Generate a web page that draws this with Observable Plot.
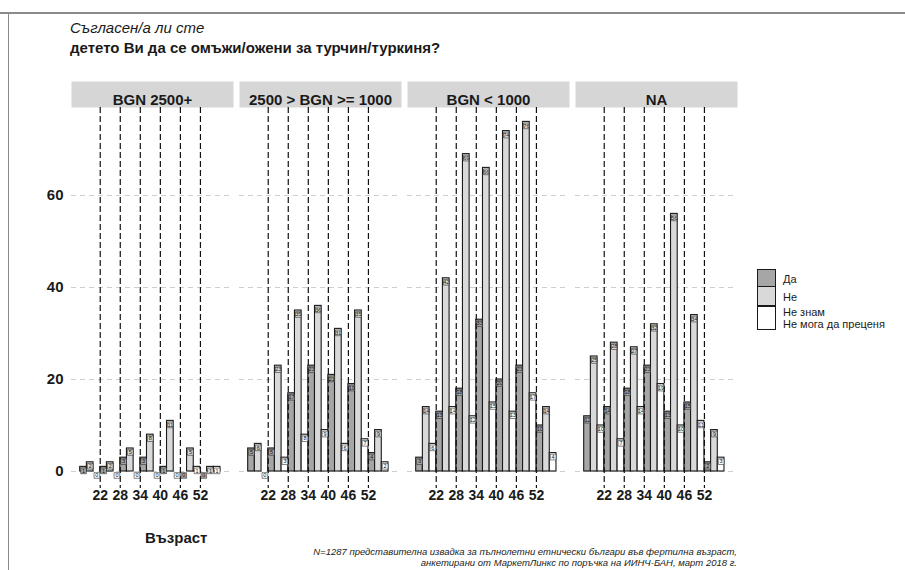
<!DOCTYPE html>
<html>
<head>
<meta charset="utf-8">
<script src="https://cdn.jsdelivr.net/npm/d3@7"></script>
<script src="https://cdn.jsdelivr.net/npm/@observablehq/plot@0.6"></script>
<style>
  html, body { margin: 0; padding: 0; background: #fff; }
  body { position: relative; width: 905px; height: 570px; overflow: hidden; font-family: "Liberation Sans", Arial, sans-serif; color: #1a1a1a; }
  .abs { position: absolute; white-space: nowrap; }
  #topline { left: 0; top: 12px; width: 905px; height: 2px; background: #8a8a8a; }
  #leftline { left: 8px; top: 12px; width: 1px; height: 558px; background: #8a8a8a; }
  #t1 { left: 70px; top: 20px; font-size: 15px; font-style: italic; line-height: 16px; }
  #t2 { left: 70px; top: 40px; font-size: 15px; font-weight: bold; line-height: 16px; }
  #chart { left: 0; top: 81px; }
  #xlab { left: 145px; top: 530px; font-size: 15px; font-weight: bold; line-height: 16px; }
  #caption { right: 168px; top: 546px; font-size: 9.5px; font-style: italic; line-height: 11px; text-align: right; color: #222; }
  #legend { left: 757px; top: 270px; font-size: 11px; }
  .lrow { display: flex; align-items: center; }
  .key { width: 19px; border: 1.3px solid #1a1a1a; box-sizing: border-box; margin-top: -1.3px; }
  .ltxt { margin-left: 7px; line-height: 12px; }
</style>
</head>
<body>
<div class="abs" id="topline"></div>
<div class="abs" id="leftline"></div>
<div class="abs" id="t1">Съгласен/а ли сте</div>
<div class="abs" id="t2">детето Ви да се омъжи/ожени за турчин/туркиня?</div>
<div class="abs" id="chart"></div>
<div class="abs" id="legend"></div>
<div class="abs" id="xlab">Възраст</div>
<div class="abs" id="caption">N=1287 представителна извадка за пълнолетни етнически българи във фертилна възраст,<br>анкетирани от МаркетЛинкс по поръчка на ИИНЧ-БАН, март 2018 г.</div>
<script>
// ---- data ----
const facets = ["BGN 2500+", "2500 > BGN >= 1000", "BGN < 1000", "NA"];
const responses = ["Да", "Не", "Не знам / Не мога да преценя"];
const legendLabels = [["Да"], ["Не"], ["Не знам", "Не мога да преценя"]];
const responseColors = ["#a6a6a6", "#d9d9d9", "#ffffff"];
const ageStarts = [16, 22, 28, 34, 40, 46, 52];   // age-group starts, 6 years wide
const ageTicks = [22, 28, 34, 40, 46, 52];
const yTicks = [0, 20, 40, 60];

// counts per facet (rows in facet order) and age group
const daValues = [
  [1, 1, 3, 3, 1, 0, 0],
  [5, 5, 17, 23, 21, 19, 4],
  [3, 13, 18, 33, 20, 23, 10],
  [12, 14, 18, 23, 13, 15, 2]
];
const neValues = [
  [2, 2, 5, 8, 11, 5, 1],
  [6, 23, 35, 36, 31, 35, 9],
  [14, 42, 69, 66, 74, 76, 14],
  [25, 28, 27, 32, 56, 34, 9]
];
const dkValues = [
  [0, 0, 0, 0, 0, 1, 1],
  [0, 3, 8, 9, 6, 7, 2],
  [6, 14, 12, 15, 13, 17, 4],
  [10, 7, 14, 19, 10, 11, 3]
];
const seriesValues = [daValues, neValues, dkValues];

// ---- table ----
const rows = [];
facets.forEach((f, fi) => {
  responses.forEach((r, ri) => {
    ageStarts.forEach((a, ai) => {
      rows.push({facet: f, response: r, k: ri, start: a, value: seriesValues[ri][fi][ai]});
    });
  });
});

const W = 905, H = 429, MT = 26, MB = 22, ML = 71, MR = 167.5;
const frameH = H - MT - MB;
const font = "Liberation Sans, Arial, sans-serif";

const labelBoxes = responses.map((r, ri) => Plot.dot(rows.filter(d => d.k === ri), {
  fx: "facet",
  x: d => d.start + 2 * d.k + 1,
  y: "value",
  dy: 4,
  symbol: "square",
  r: 3.2,
  fill: responseColors[ri],
  stroke: "#333",
  strokeWidth: 0.6
}));

const plot = Plot.plot({
  width: W,
  height: H,
  marginTop: MT,
  marginBottom: MB,
  marginLeft: ML,
  marginRight: MR,
  style: {fontFamily: font, color: "#1a1a1a", background: "transparent"},
  fx: {domain: facets, paddingInner: 0.0374, paddingOuter: 0, axis: null, label: null},
  x: {domain: [13.4, 61.9], axis: null},
  y: {domain: [-3.7, 79.13], axis: null},
  color: {domain: responses, range: responseColors},
  marks: [
    // facet strips
    Plot.frame({fill: "#d6d6d6", stroke: "none", insetTop: -MT, insetBottom: frameH}),
    Plot.text(facets, {fx: d => d, text: d => d, frameAnchor: "top", dy: -13, fontSize: 15, fontWeight: "bold", fill: "#1a1a1a"}),
    // horizontal grid
    Plot.ruleY(yTicks, {stroke: "#cfcfcf", strokeDasharray: "5,4", strokeWidth: 1}),
    // bars
    Plot.rect(rows, {
      fx: "facet",
      x1: d => d.start + 2 * d.k,
      x2: d => d.start + 2 * d.k + 2,
      y1: d => 0,
      y2: "value",
      fill: "response",
      stroke: "#1a1a1a",
      strokeWidth: 1.1
    }),
    // age boundaries
    Plot.ruleX(ageTicks, {stroke: "#111", strokeDasharray: "6,3", strokeWidth: 1.2}),
    // value labels (boxes + text)
    ...labelBoxes,
    Plot.text(rows, {
      fx: "facet",
      x: d => d.start + 2 * d.k + 1,
      y: "value",
      dy: 4,
      text: d => String(d.value),
      fontSize: 5.5,
      fill: "#111"
    }),
    // axes
    Plot.axisY({ticks: yTicks, tickSize: 0, tickPadding: 8, fontSize: 15, fontWeight: "bold", label: null}),
    Plot.axisX({ticks: ageTicks, tickSize: 0, tickPadding: 2, fontSize: 14, fontWeight: "bold", label: null, tickFormat: d => String(d)})
  ]
});
document.getElementById("chart").appendChild(plot);

// legend
const legend = document.getElementById("legend");
const keyHeights = [19, 20, 24];
responses.forEach((r, i) => {
  const row = document.createElement("div");
  row.className = "lrow";
  const key = document.createElement("div");
  key.className = "key";
  key.style.background = responseColors[i];
  key.style.height = keyHeights[i] + "px";
  const txt = document.createElement("div");
  txt.className = "ltxt";
  txt.innerHTML = legendLabels[i].join("<br>");
  row.appendChild(key);
  row.appendChild(txt);
  legend.appendChild(row);
});
</script>
</body>
</html>
